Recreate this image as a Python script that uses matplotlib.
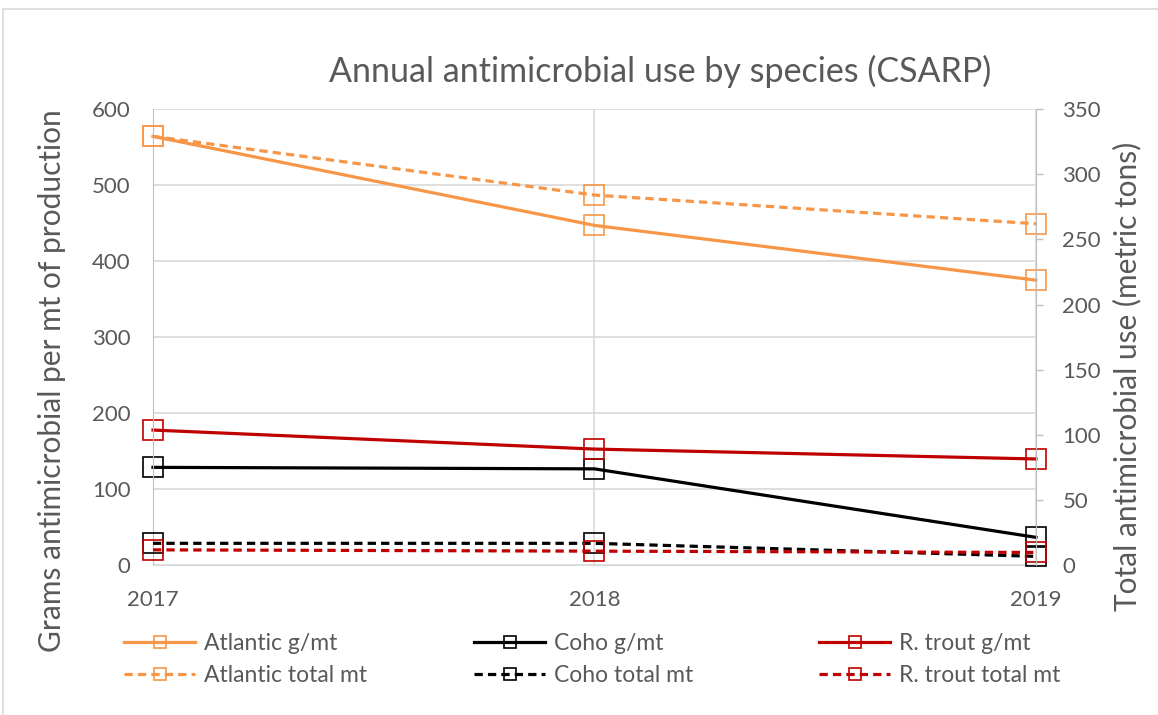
import matplotlib.pyplot as plt
from matplotlib.patches import Rectangle

years = [2017, 2018, 2019]
atlantic_gmt = [564, 447, 375]
coho_gmt = [129, 127, 37]
trout_gmt = [178, 153, 140]
atlantic_total = [329, 284, 262]
coho_total = [17, 17, 7]
trout_total = [12, 11, 10]

orange = '#F79646'
red = '#C00000'
black = '#000000'
grey_txt = '#595959'
grid_col = '#D9D9D9'
font = 'Lato'

plt.rcParams['font.family'] = [font, 'DejaVu Sans']

fig = plt.figure(figsize=(11.58, 7.15), dpi=100)
ax = fig.add_axes([0.1321, 0.2091, 0.7625, 0.6385])
ax2 = ax.twinx()

line_kw = dict(lw=2.3, marker='s', ms=14, mfc='none', mew=1.2)
dash = (2.6, 1.6)

h1, = ax.plot(years, atlantic_gmt, color=orange, mec=orange, label='Atlantic g/mt', **line_kw)
h3, = ax.plot(years, coho_gmt, color=black, mec=black, label='Coho g/mt', **line_kw)
h5, = ax.plot(years, trout_gmt, color=red, mec=red, label='R. trout g/mt', **line_kw)
h2, = ax2.plot(years, atlantic_total, color=orange, mec=orange, ls='--', dashes=dash, label='Atlantic total mt', **line_kw)
h4, = ax2.plot(years, coho_total, color=black, mec=black, ls='--', dashes=dash, label='Coho total mt', **line_kw)
h6, = ax2.plot(years, trout_total, color=red, mec=red, ls='--', dashes=dash, label='R. trout total mt', **line_kw)
for h in (h1, h2, h3, h4, h5, h6):
    h.set_clip_on(False)

ax.set_xlim(2017, 2019)
ax.set_ylim(0, 600)
ax2.set_ylim(0, 350)
ax.set_xticks(years)
ax.set_xticklabels([str(y) for y in years])
ax.set_yticks(range(0, 601, 100))
ax2.set_yticks(range(0, 351, 50))

ax.grid(True, color=grid_col, lw=1.2)
ax.set_axisbelow(True)
ax.spines['top'].set_visible(False)
ax2.spines['top'].set_visible(False)
ax.spines['bottom'].set_color(grid_col)
ax.spines['left'].set_color('#BFBFBF')
ax.spines['right'].set_visible(False)
ax2.spines['left'].set_visible(False)
ax2.spines['bottom'].set_visible(False)
ax2.spines['right'].set_color('#BFBFBF')

tick_fs = 16
ax.tick_params(axis='x', length=0, pad=18, labelsize=tick_fs, labelcolor=grey_txt)
ax.tick_params(axis='y', length=0, pad=16, labelsize=tick_fs, labelcolor=grey_txt)
ax2.tick_params(axis='y', length=5, width=1, color='#BFBFBF', pad=14, labelsize=tick_fs, labelcolor=grey_txt)

ax.set_ylabel('Grams antimicrobial per mt of production', fontsize=21.5, color=grey_txt)
ax2.set_ylabel('Total antimicrobial use (metric tons)', fontsize=21.5, color=grey_txt)
ax.yaxis.set_label_coords(-0.099, 0.406)
ax2.yaxis.set_label_coords(1.087, 0.414)
fig.text(0.57, 0.9, 'Annual antimicrobial use by species (CSARP)', ha='center', va='center',
         fontsize=24.5, color=grey_txt)

# three legend columns at the spots Excel put them
groups = [(h1, h2), (h3, h4), (h5, h6)]
col_x = [124, 474, 819]
for hs, x in zip(groups, col_x):
    leg = fig.legend(handles=list(hs), loc='upper left', bbox_to_anchor=(x / 1158, 1 - 633 / 715),
                     frameon=False, fontsize=16.5, handlelength=3.1, borderpad=0, borderaxespad=0,
                     labelspacing=0.5, handletextpad=0.4)
    for t in leg.get_texts():
        t.set_color(grey_txt)
    for lh in leg.legend_handles:
        lh.set_markersize(9)

fig.patches.append(Rectangle((0.003, -0.01), 1.1, 0.997, transform=fig.transFigure,
                             fill=False, edgecolor=grid_col, lw=1.2))

fig.savefig('out.png', dpi=100)
